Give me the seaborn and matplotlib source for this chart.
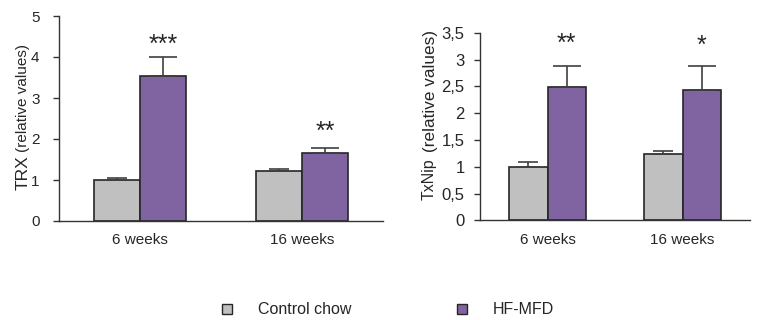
import numpy as np
import pandas as pd
import matplotlib
matplotlib.use('Agg')
import matplotlib.pyplot as plt
import seaborn as sns
from matplotlib.patches import Patch

# data
groups = ['Control chow', 'HF-MFD']
times = ['6 weeks', '16 weeks']

trx_control = [1.00, 1.23]
trx_hfmfd = [3.53, 1.65]
trx_control_err = [0.05, 0.05]
trx_hfmfd_err = [0.48, 0.12]
trx_stars = ['***', '**']
trx_star_y = [4.29, 2.17]
trx_yticks = [0, 1, 2, 3, 4, 5]
trx_yticklabels = ['0', '1', '2', '3', '4', '5']

txnip_control = [1.00, 1.23]
txnip_hfmfd = [2.48, 2.44]
txnip_control_err = [0.09, 0.06]
txnip_hfmfd_err = [0.39, 0.43]
txnip_stars = ['**', '*']
txnip_star_y = [3.29, 3.25]
txnip_yticks = [0, 0.5, 1, 1.5, 2, 2.5, 3, 3.5]
txnip_yticklabels = ['0', '0,5', '1', '1,5', '2', '2,5', '3', '3,5']

colors = {'Control chow': '#c0c0c0', 'HF-MFD': '#8064a2'}
capsizes = {'Control chow': 7, 'HF-MFD': 10}
edge = '#262626'

sns.set_style('white')
plt.rcParams['font.family'] = ['Liberation Sans', 'DejaVu Sans']


def panel(ax, ctrl, hf, ctrl_err, hf_err, stars, star_y, yticks, yticklabels,
          ytick_size, ytick_pad):
    df = pd.DataFrame({
        'time': times * 2,
        'group': [groups[0]] * 2 + [groups[1]] * 2,
        'value': ctrl + hf,
        'err': ctrl_err + hf_err,
    })
    sns.barplot(data=df, x='time', y='value', hue='group', order=times,
                hue_order=groups, palette=colors, width=0.57, errorbar=None,
                edgecolor=edge, linewidth=1.2, saturation=1, legend=False, ax=ax)
    # upper-only error bars
    for cont, g in zip(ax.containers, groups):
        sub = df[df['group'] == g]
        xs = [b.get_x() + b.get_width() / 2 for b in cont]
        ax.errorbar(xs, sub['value'], yerr=[np.zeros(len(sub)), sub['err']],
                    fmt='none', ecolor='#404040', elinewidth=1.2,
                    capsize=capsizes[g], capthick=1.2, zorder=3)
        if g == 'HF-MFD':
            for x, s, y in zip(xs, stars, star_y):
                ax.text(x, y, s, ha='center', va='center', fontsize=18)
    ax.set_xlim(-0.5, 1.5)
    ax.set_ylim(yticks[0], yticks[-1])
    ax.set_yticks(yticks)
    ax.set_yticklabels(yticklabels, fontsize=ytick_size)
    ax.set_xticks([0, 1])
    ax.set_xticklabels(times, fontsize=11)
    ax.set_xticks([-0.5, 0.5, 1.5], minor=True)
    ax.tick_params(axis='x', which='major', length=0, pad=9)
    ax.tick_params(axis='x', which='minor', length=5, width=1, direction='out', color='#333333')
    ax.tick_params(axis='y', length=4, width=1, direction='out', left=True,
                   color='#333333', pad=ytick_pad)
    ax.set_xlabel('')
    ax.set_ylabel('')
    sns.despine(ax=ax)
    for sp in ['left', 'bottom']:
        ax.spines[sp].set_color('#333333')
        ax.spines[sp].set_linewidth(1)


fig = plt.figure(figsize=(7.59, 3.2), dpi=100)
ax1 = fig.add_axes([59 / 759, 99 / 320, 324 / 759, 205 / 320])
ax2 = fig.add_axes([480 / 759, 99.7 / 320, 270 / 759, 187.6 / 320])

panel(ax1, trx_control, trx_hfmfd, trx_control_err, trx_hfmfd_err,
      trx_stars, trx_star_y, trx_yticks, trx_yticklabels, 11, 10)
panel(ax2, txnip_control, txnip_hfmfd, txnip_control_err, txnip_hfmfd_err,
      txnip_stars, txnip_star_y, txnip_yticks, txnip_yticklabels, 12, 7)

# y labels: name + "(relative values)"
fig.text(23 / 759, (320 - 190) / 320, 'TRX', rotation=90, ha='center', va='bottom', fontsize=12.5)
fig.text(23 / 759, (320 - 152) / 320, '(relative values)', rotation=90, ha='center', va='bottom', fontsize=11)
fig.text(429 / 759, (320 - 200) / 320, 'TxNip', rotation=90, ha='center', va='bottom', fontsize=11.5)
fig.text(430 / 759, (320 - 152) / 320, '(relative values)', rotation=90, ha='center', va='bottom', fontsize=12.3)

handles = [Patch(facecolor=colors[g], edgecolor=edge, linewidth=1) for g in groups]
fig.legend(handles, groups, loc='center', bbox_to_anchor=(388 / 759, (320 - 310) / 320),
           ncol=2, frameon=False, fontsize=11.5, handlelength=0.65, handleheight=0.65,
           handletextpad=1.6, columnspacing=6.6, borderaxespad=0)

fig.savefig('out.png', dpi=100, facecolor='white')
